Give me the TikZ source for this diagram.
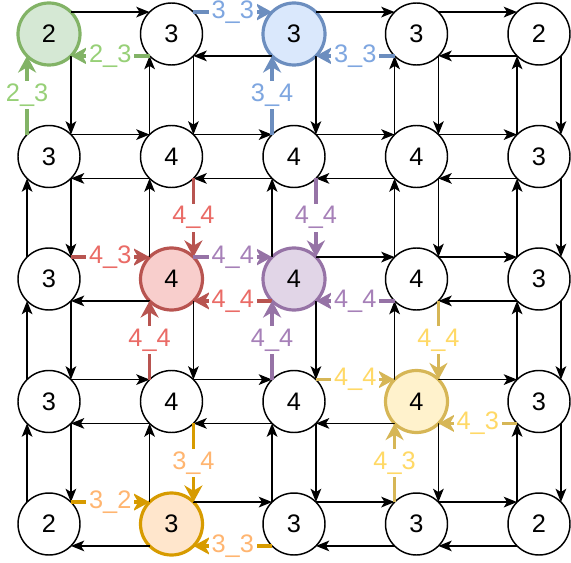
\documentclass[tikz,border=0pt]{standalone}
\usepackage{fontspec}
\setmainfont{Liberation Sans}
\usetikzlibrary{arrows.meta}
\definecolor{greenedge}{HTML}{82B366}
\definecolor{greenfill}{HTML}{D5E8D4}
\definecolor{greenlbl}{HTML}{97D077}
\definecolor{blueedge}{HTML}{6C8EBF}
\definecolor{bluefill}{HTML}{DAE8FC}
\definecolor{bluelbl}{HTML}{7EA6E0}
\definecolor{rededge}{HTML}{B85450}
\definecolor{redfill}{HTML}{F8CECC}
\definecolor{redlbl}{HTML}{EA6B66}
\definecolor{purpleedge}{HTML}{9673A6}
\definecolor{purplefill}{HTML}{E1D5E7}
\definecolor{purplelbl}{HTML}{A680B8}
\definecolor{yellowedge}{HTML}{D6B656}
\definecolor{yellowfill}{HTML}{FFF2CC}
\definecolor{yellowlbl}{HTML}{FFD966}
\definecolor{orangeedge}{HTML}{D79B00}
\definecolor{orangefill}{HTML}{FFE6CC}
\definecolor{orangelbl}{HTML}{FFB570}

\begin{document}
\begin{tikzpicture}[x=0.75pt, y=-0.75pt,
  cell/.style={circle, draw, line width=1.1pt, minimum size=46.5pt, inner sep=0pt, outer sep=0pt, font=\fontsize{19}{22}\selectfont},
  hl/.style={cell, draw=#1edge, fill=#1fill, line width=2.4pt},
  blackarrow/.style={-{Stealth[length=10pt, width=8pt, inset=2.5pt]}, line width=1.1pt},
  hlarrow/.style={-{Stealth[length=12.5pt, width=13.5pt, inset=4pt]}, line width=2.4pt, draw=#1edge},
  lbl/.style={fill=white, inner sep=2pt, font=\fontsize{19}{22}\selectfont}]
  \useasboundingbox (0,0) rectangle (571,563);

  % highlighted cells
  \foreach \r/\c/\v/\col in {0/0/2/green, 0/2/3/blue, 2/1/4/red, 2/2/4/purple, 3/3/4/yellow, 4/1/3/orange}{
    \node[hl=\col] (n-\r-\c) at ({49+122.5*\c},{34+122.5*\r}) {\v};
    \expandafter\gdef\csname hl-\r-\c\endcsname{}
  }
  % other cells
  \foreach \r/\vals in {0/{2,3,3,3,2}, 1/{3,4,4,4,3}, 2/{3,4,4,4,3}, 3/{3,4,4,4,3}, 4/{2,3,3,3,2}}
    \foreach \v [count=\c from 0] in \vals {
      \ifcsname hl-\r-\c\endcsname\else
        \node[cell] (n-\r-\c) at ({49+122.5*\c},{34+122.5*\r}) {\v};
      \fi
    }

  % plain arrows, left/right
  \foreach \r in {0,...,4}
    \foreach \c in {0,...,3} {
      \pgfmathtruncatemacro{\d}{\c+1}
      \ifcsname hl-\r-\d\endcsname\else \draw[blackarrow] (n-\r-\c.45) -- (n-\r-\d.135); \fi
      \ifcsname hl-\r-\c\endcsname\else \draw[blackarrow] (n-\r-\d.225) -- (n-\r-\c.315); \fi
    }
  % plain arrows, up/down
  \foreach \r in {0,...,3}
    \foreach \c in {0,...,4} {
      \pgfmathtruncatemacro{\s}{\r+1}
      \ifcsname hl-\s-\c\endcsname\else \draw[blackarrow] (n-\r-\c.315) -- (n-\s-\c.45); \fi
      \ifcsname hl-\r-\c\endcsname\else \draw[blackarrow] (n-\s-\c.135) -- (n-\r-\c.225); \fi
    }

  % labelled arrows into highlighted cells
  \foreach \a/\b/\col/\lab in {
    n-0-1.225/n-0-0.315/green/2\_3,
    n-1-0.135/n-0-0.225/green/2\_3,
    n-0-1.45/n-0-2.135/blue/3\_3,
    n-0-3.225/n-0-2.315/blue/3\_3,
    n-1-2.135/n-0-2.225/blue/3\_4,
    n-1-1.315/n-2-1.45/red/4\_4,
    n-2-0.45/n-2-1.135/red/4\_3,
    n-3-1.135/n-2-1.225/red/4\_4,
    n-2-2.225/n-2-1.315/red/4\_4,
    n-1-2.315/n-2-2.45/purple/4\_4,
    n-2-1.45/n-2-2.135/purple/4\_4,
    n-2-3.225/n-2-2.315/purple/4\_4,
    n-3-2.135/n-2-2.225/purple/4\_4,
    n-2-3.315/n-3-3.45/yellow/4\_4,
    n-3-2.45/n-3-3.135/yellow/4\_4,
    n-3-4.225/n-3-3.315/yellow/4\_3,
    n-4-3.135/n-3-3.225/yellow/4\_3,
    n-3-1.315/n-4-1.45/orange/3\_4,
    n-4-0.45/n-4-1.135/orange/3\_2,
    n-4-2.225/n-4-1.315/orange/3\_3}
    \draw[hlarrow=\col] (\a) -- node[lbl, text=\col lbl] {\lab} (\b);
\end{tikzpicture}
\end{document}
